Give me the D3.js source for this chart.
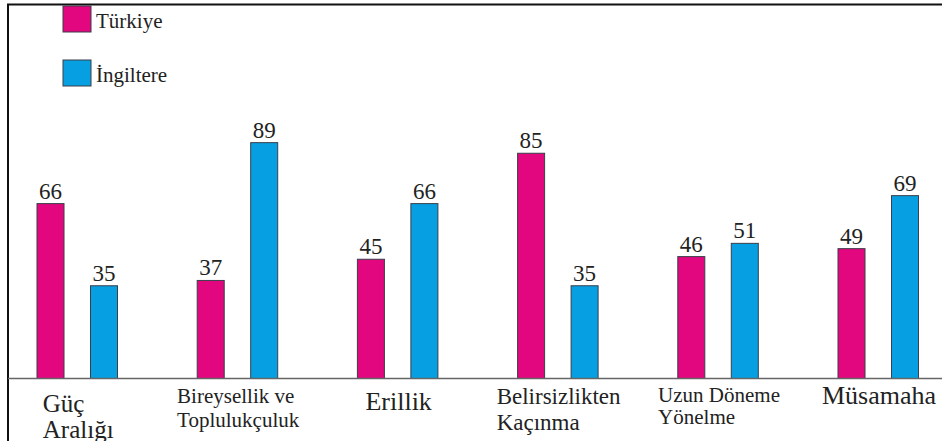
<!DOCTYPE html>
<html>
<head>
<meta charset="utf-8">
<script src="https://cdn.jsdelivr.net/npm/d3@7"></script>
<style>
    body { margin: 0; background: #fff; }
    svg { display: block; }
</style>
</head>
<body>
<div id="graph-container"></div>
<script>
const
    WIDTH = 942,
    HEIGHT = 441;

const FONT = '"Liberation Serif"';

// data
const categories = ['Güç Aralığı', 'Bireysellik ve Toplulukçuluk', 'Erillik',
    'Belirsizlikten Kaçınma', 'Uzun Döneme Yönelme', 'Müsamaha'];
const categoryLines = [
    ['Güç', 'Aralığı'],
    ['Bireysellik ve', 'Toplulukçuluk'],
    ['Erillik'],
    ['Belirsizlikten', 'Kaçınma'],
    ['Uzun Döneme', 'Yönelme'],
    ['Müsamaha'],
];
const seriesNames = ['Türkiye', 'İngiltere'];
const turkiye = [66, 37, 45, 85, 46, 49];
const ingiltere = [35, 89, 66, 35, 51, 69];

// label styles (font size, first baseline below axis, line height)
const labelStyle = [
    { size: 25, dy: 33, lh: 26 },
    { size: 21, dy: 24, lh: 24 },
    { size: 26, dy: 31, lh: 26 },
    { size: 23, dy: 25, lh: 26 },
    { size: 21, dy: 23, lh: 22 },
    { size: 26, dy: 25, lh: 26 },
];

const colors = ['#e2067f', '#06a0e2'];

const baseY = 378.5;

const svg = d3.select('#graph-container').append('svg')
    .attr('width', WIDTH)
    .attr('height', HEIGHT);

// frame
svg.append('rect')
    .attr('x', 8)
    .attr('y', 4.5)
    .attr('width', WIDTH + 20)
    .attr('height', HEIGHT + 20)
    .attr('fill', 'none')
    .attr('stroke', '#111')
    .attr('stroke-width', 2);

const x0 = d3.scaleBand()
    .domain(categories)
    .range([37, 918.5])
    .paddingInner(0.4975)
    .paddingOuter(0);

const x1 = d3.scaleBand()
    .domain(seriesNames)
    .range([0, x0.bandwidth()])
    .paddingInner(0.495)
    .paddingOuter(0);

const yScale = d3.scaleLinear()
    .domain([0, 100])
    .range([baseY, baseY - 265]);

const rows = categories.map((c, i) => ({
    cat: c,
    values: [
        { name: seriesNames[0], value: turkiye[i] },
        { name: seriesNames[1], value: ingiltere[i] },
    ],
}));

const groups = svg.append('g')
    .selectAll('g')
    .data(rows)
    .join('g')
    .attr('transform', (d) => `translate(${x0(d.cat)},0)`);

groups.selectAll('rect')
    .data((d) => d.values)
    .join('rect')
    .attr('x', (d) => x1(d.name))
    .attr('y', (d) => yScale(d.value))
    .attr('width', x1.bandwidth())
    .attr('height', (d) => yScale(0) - yScale(d.value))
    .attr('fill', (d, i) => colors[i])
    .attr('stroke', '#3a3f4a')
    .attr('stroke-width', 1);

groups.selectAll('text.value')
    .data((d) => d.values)
    .join('text')
    .attr('class', 'value')
    .attr('x', (d) => x1(d.name) + x1.bandwidth() / 2)
    .attr('y', (d) => yScale(d.value) - 5)
    .attr('text-anchor', 'middle')
    .style('font-family', FONT)
    .style('font-size', '23px')
    .attr('fill', '#222')
    .text((d) => d.value);

// axis line
svg.append('line')
    .attr('x1', 8)
    .attr('x2', WIDTH)
    .attr('y1', baseY)
    .attr('y2', baseY)
    .attr('stroke', '#666')
    .attr('stroke-width', 1.5);

// category labels: lines left aligned, block centred under the group
categories.forEach((c, i) => {
    const st = labelStyle[i];
    const t = svg.append('text')
        .style('font-family', FONT)
        .style('font-size', st.size + 'px')
        .attr('fill', '#222');
    categoryLines[i].forEach((line, j) => {
        t.append('tspan')
            .attr('x', 0)
            .attr('y', baseY + st.dy + j * st.lh)
            .text(line);
    });
    const w = t.node().getBBox().width;
    const cx = x0(c) + x0.bandwidth() / 2 + 1;
    t.selectAll('tspan').attr('x', cx - w / 2);
});

// legend
const legend = svg.append('g')
    .selectAll('g')
    .data(seriesNames)
    .join('g')
    .attr('transform', (d, i) => `translate(63, ${6 + i * 54})`);

legend.append('rect')
    .attr('width', 28)
    .attr('height', 26)
    .attr('fill', (d, i) => colors[i])
    .attr('stroke', '#3a3f4a')
    .attr('stroke-width', 1);

legend.append('text')
    .attr('x', 33)
    .attr('y', 22)
    .style('font-family', FONT)
    .style('font-size', '21px')
    .attr('fill', '#222')
    .text((d) => d);
</script>
</body>
</html>
